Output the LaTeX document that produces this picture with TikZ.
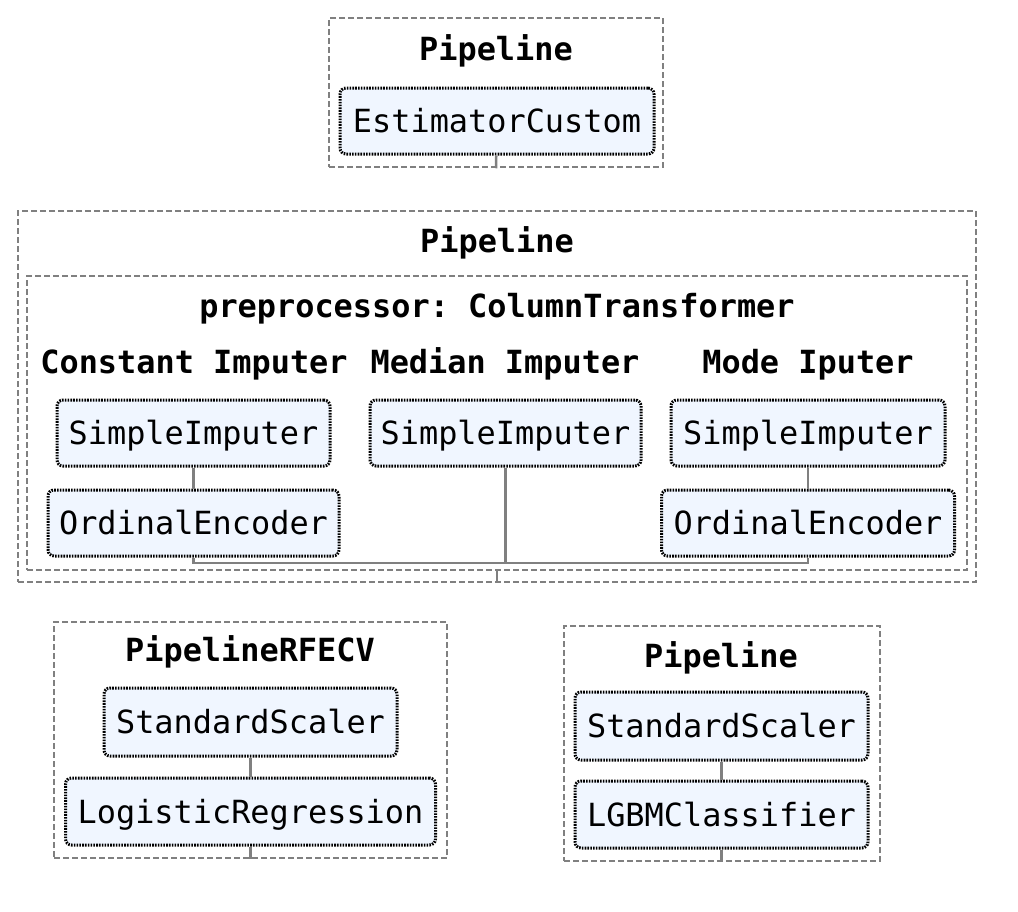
\documentclass[tikz,border=0pt]{standalone}
\usepackage{fontspec}
\setmonofont{DejaVu Sans Mono}
\usepackage{tikz}
\usetikzlibrary{positioning}
\definecolor{estfill}{HTML}{F0F6FF}
\definecolor{edgegray}{HTML}{808080}
\tikzset{
	pipebox/.style={draw=edgegray, line width=2.5pt, dash pattern=on 6pt off 3pt, inner sep=0pt},
	estim/.style={draw=black, line width=3pt, dash pattern=on 1.6pt off 1.2pt, fill=estfill, rounded corners=6pt, inner sep=0pt, text height=23pt, text depth=0pt, font=\ttfamily\fontsize{31.9}{38}\selectfont},
	link/.style={draw=edgegray, line width=2.5pt}
}

\begin{document}
\begin{tikzpicture}[x=1pt, y=-1pt,
		title/.style={anchor=base, inner sep=0pt, font=\ttfamily\bfseries\fontsize{31.9}{38}\selectfont}
		]
		\useasboundingbox (0,0) rectangle (1018,911);
		
		% outer pipelines and column transformer
		\node[pipebox, minimum width=334pt, minimum height=149pt] (pipe1) at (496,92.5) {};
		\node[pipebox, minimum width=958pt, minimum height=371pt] (pipe2) at (497,396.5) {};
		\node[pipebox, minimum width=940pt, minimum height=294pt] (ct) at (497,423) {};
		\node[pipebox, minimum width=393pt, minimum height=236pt] (rfecv) at (250.5,740) {};
		\node[pipebox, minimum width=316pt, minimum height=235pt] (pipe3) at (722,743.5) {};
		
		\node[title] (t1) at (496,60) {Pipeline};
		\node[title] (t2) at (497,252) {Pipeline};
		\node[title] (t3) at (497,317) {preprocessor: ColumnTransformer};
		\node[title] (c1) at (194,373) {Constant Imputer};
		\node[title] (c2) at (505,373) {Median Imputer};
		\node[title] (c3) at (808,373) {Mode Iputer};
		\node[title] (t4) at (250,661) {PipelineRFECV};
		\node[title] (t5) at (721,667) {Pipeline};
		
		% estimators
		\node[estim, minimum width=314pt, minimum height=66pt] (est) at (497,121) {EstimatorCustom};
		
		\node[estim, minimum width=273pt, minimum height=66pt] (si1) at (193.5,433) {SimpleImputer};
		\node[estim, minimum width=291pt, minimum height=66pt, below=21pt of si1] (oe1) {OrdinalEncoder};
		\node[estim, minimum width=271pt, minimum height=66pt] (si2) at (505.5,433) {SimpleImputer};
		\node[estim, minimum width=274pt, minimum height=66pt] (si3) at (808,433) {SimpleImputer};
		\node[estim, minimum width=293pt, minimum height=66pt, below=21pt of si3] (oe3) {OrdinalEncoder};
		
		\node[estim, minimum width=293pt, minimum height=68pt] (ss1) at (250.5,722) {StandardScaler};
		\node[estim, minimum width=370pt, minimum height=67pt, below=19pt of ss1] (lr) {LogisticRegression};
		\node[estim, minimum width=293pt, minimum height=68pt] (ss2) at (721.5,726) {StandardScaler};
		\node[estim, minimum width=293pt, minimum height=67pt, below=18pt of ss2] (lgbm) {LGBMClassifier};
		
		% connectors
		\coordinate (bus) at (505.5,563);
		\draw[link] (est) -- (pipe1.south);
		\draw[link] (si1) -- (oe1);
		\draw[link] (si3) -- (oe3);
		\draw[link] (si2) -- (bus);
		\draw[link] (oe1.south) |- (bus) -| (oe3.south);
		\draw[link] (ct.south) -- (pipe2.south);
		\draw[link] (ss1) -- (lr);
		\draw[link] (lr.south) -- (rfecv.south -| lr.south);
		\draw[link] (ss2) -- (lgbm);
		\draw[link] (lgbm.south) -- (pipe3.south -| lgbm.south);
	\end{tikzpicture}
\end{document}
